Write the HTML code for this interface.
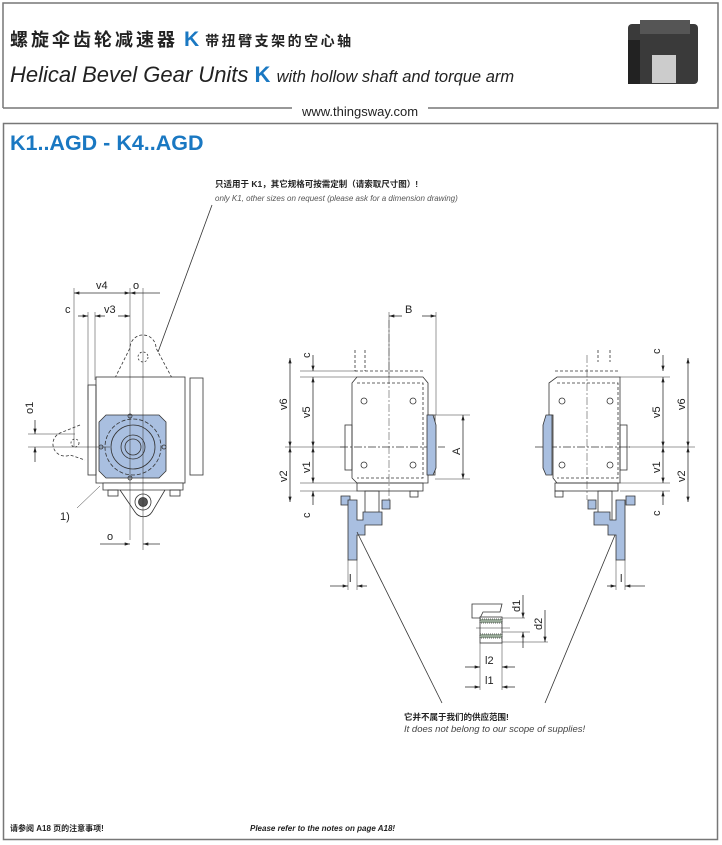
<!DOCTYPE html>
<html><head><meta charset="utf-8"><style>
html,body{margin:0;padding:0;background:#fff}
svg{display:block}
text{font-family:"Liberation Sans","Noto Sans CJK SC",sans-serif}
</style></head><body>
<svg width="722" height="845" viewBox="0 0 722 845" xmlns="http://www.w3.org/2000/svg">
<defs>
<marker id="a" viewBox="0 0 10 6" refX="10" refY="3" markerWidth="8" markerHeight="4" orient="auto-start-reverse"><path d="M0,0L10,3L0,6z" fill="#222"/></marker>
</defs>
<path d="M3,108V3H718V108H428M292,108H3" fill="none" stroke="#777" stroke-width="1.5"/>
<text x="10" y="46" font-size="18" font-weight="bold" fill="#222" letter-spacing="3">螺旋伞齿轮减速器<tspan fill="#1a78c2" font-size="21" letter-spacing="0" dx="6">K</tspan><tspan font-size="14" letter-spacing="2.5" dx="6">带扭臂支架的空心轴</tspan></text>
<text x="10" y="82" font-size="22" font-style="italic" fill="#222">Helical Bevel Gear Units <tspan fill="#1a78c2" font-weight="bold" font-style="normal">K</tspan> <tspan font-size="16.5">with hollow shaft and torque arm</tspan></text>
<text x="360" y="116" font-size="13" fill="#222" text-anchor="middle">www.thingsway.com</text>
<g>
<rect x="628" y="24" width="70" height="60" rx="4" fill="#3a3a3a"/>
<rect x="640" y="20" width="50" height="14" fill="#555"/>
<rect x="652" y="55" width="24" height="28" fill="#ccc"/>
<rect x="628" y="40" width="12" height="44" fill="#222"/>
</g>
<rect x="3.5" y="123.5" width="714" height="716" fill="none" stroke="#777" stroke-width="1.5"/>
<text x="10" y="150" font-size="21.5" font-weight="bold" fill="#1a78c2">K1..AGD - K4..AGD</text>

<text x="215" y="187" font-size="8.5" font-weight="bold" fill="#222">只适用于 K1，其它规格可按需定制（请索取尺寸图）!</text>
<text x="215" y="201" font-size="8" font-style="italic" fill="#555">only K1, other sizes on request (please ask for a dimension drawing)</text>
<line x1="212" y1="205" x2="158" y2="352" stroke="#333" stroke-width="0.8"/>

<g stroke="#333" stroke-width="0.8" fill="none">
<path d="M115,378L130,348A13,13 0 0 1 156,348L172,378" stroke-dasharray="3,2"/>
<circle cx="143" cy="357" r="5" stroke-dasharray="2,2"/>
<rect x="96" y="377" width="89" height="106" fill="#fff"/>
<rect x="190" y="378" width="13" height="97" fill="#fff"/>
<rect x="88" y="385" width="8" height="90"/>
<path d="M80,425 L60,433A12,12 0 0 0 70,455L85,460" stroke-dasharray="3,2"/>
<circle cx="75" cy="443" r="4" stroke-dasharray="2,2"/>
<path d="M106,415H159L166,422V471L159,478H106L99,471V422Z" fill="#a9bfe0" stroke="#333"/>
<circle cx="133" cy="447" r="28" stroke-dasharray="4,2"/>
<circle cx="133" cy="447" r="22"/>
<circle cx="133" cy="447" r="12"/>
<circle cx="133" cy="447" r="8"/>
<circle cx="130" cy="416" r="2"/><circle cx="130" cy="478" r="2"/><circle cx="101" cy="447" r="2"/><circle cx="164" cy="447" r="2"/>
<path d="M103,483H183V490H103Z" fill="#fff"/>
<rect x="108" y="490" width="10" height="6"/><rect x="170" y="490" width="10" height="6"/>
<path d="M120,490L135,512A10,10 0 0 0 152,512L165,490"/>
<circle cx="143" cy="502" r="8"/><circle cx="143" cy="502" r="4.5" fill="#555"/>
<path d="M74,288V447M88,312V400M95,312V380M130,288V540M143,288V550" stroke-width="0.5"/>
<line x1="74" y1="293" x2="130" y2="293" marker-start="url(#a)" marker-end="url(#a)"/>
<line x1="130" y1="293" x2="160" y2="293" marker-start="url(#a)"/>
<line x1="78" y1="316" x2="88" y2="316" marker-end="url(#a)"/>
<line x1="95" y1="316" x2="105" y2="316" marker-start="url(#a)"/>
<line x1="118" y1="316" x2="130" y2="316" marker-end="url(#a)"/>
<path d="M28,434H75M28,447H110" stroke-width="0.5"/>
<line x1="35" y1="420" x2="35" y2="434" marker-end="url(#a)"/>
<line x1="35" y1="462" x2="35" y2="447" marker-end="url(#a)"/>
<line x1="100" y1="544" x2="130" y2="544" marker-end="url(#a)"/>
<line x1="160" y1="544" x2="143" y2="544" marker-end="url(#a)"/>
<line x1="77" y1="508" x2="100" y2="486" stroke-width="0.5"/>

<path d="M355,371H425M355,350V371M365,350V371" stroke-dasharray="3,2"/>
<path d="M357,377H423L428,383V415H435V475H428V483H357L352,478V383Z" fill="#fff"/>
<rect x="345" y="425" width="7" height="45"/>
<path d="M357,383H423V478H357" stroke-dasharray="3,2"/>
<line x1="340" y1="447" x2="445" y2="447" stroke-dasharray="8,2,2,2"/>
<line x1="389" y1="320" x2="389" y2="500" stroke-dasharray="8,2,2,2" stroke-width="0.5"/>
<rect x="357" y="483" width="66" height="8"/>
<rect x="410" y="491" width="8" height="6"/>
<path d="M427,415H433L436,425V468L433,475H427Z" fill="#a9bfe0"/>
<circle cx="364" cy="401" r="3"/><circle cx="413" cy="401" r="3"/><circle cx="364" cy="465" r="3"/><circle cx="413" cy="465" r="3"/>
<rect x="365" y="491" width="14" height="30"/>
<path d="M350,496H341V505H350ZM382,500H390V509H382Z" fill="#a9bfe0"/>
<path d="M348,500H357V520H363V512H382V525H365V535H357V560H348Z" fill="#a9bfe0"/>
<path d="M300,371H357M300,377H357M285,447H345M300,483H357M300,491H357M435,415H470M435,479H470M389,312V377M436,312V415" stroke-width="0.5"/>
<line x1="313" y1="355" x2="313" y2="371" marker-end="url(#a)"/>
<line x1="313" y1="377" x2="313" y2="447" marker-start="url(#a)" marker-end="url(#a)"/>
<line x1="313" y1="447" x2="313" y2="483" marker-start="url(#a)" marker-end="url(#a)"/>
<line x1="313" y1="505" x2="313" y2="491" marker-end="url(#a)"/>
<line x1="290" y1="358" x2="290" y2="447" marker-start="url(#a)" marker-end="url(#a)"/>
<line x1="290" y1="447" x2="290" y2="502" marker-start="url(#a)" marker-end="url(#a)"/>
<line x1="463" y1="415" x2="463" y2="479" marker-start="url(#a)" marker-end="url(#a)"/>
<line x1="389" y1="316" x2="402" y2="316" marker-start="url(#a)"/>
<line x1="422" y1="316" x2="436" y2="316" marker-end="url(#a)"/>
<path d="M348,560V590M357,560V590" stroke-width="0.5"/>
<line x1="330" y1="586" x2="348" y2="586" marker-end="url(#a)"/>
<line x1="367" y1="586" x2="357" y2="586" marker-end="url(#a)"/>
<line x1="357" y1="532" x2="442" y2="703"/>

<path d="M555,371H620M598,350V362M610,350V362" stroke-dasharray="3,2"/>
<path d="M557,377H620V483H557L553,478V415L549,415V383Z" fill="#fff"/>
<rect x="620" y="425" width="7" height="45"/>
<path d="M557,383H618V478H557" stroke-dasharray="3,2"/>
<line x1="535" y1="447" x2="630" y2="447" stroke-dasharray="8,2,2,2"/>
<line x1="587" y1="355" x2="587" y2="500" stroke-dasharray="8,2,2,2" stroke-width="0.5"/>
<rect x="555" y="483" width="63" height="8"/>
<rect x="555" y="491" width="8" height="6"/>
<path d="M546,415H552V475H546L543,468V425Z" fill="#a9bfe0"/>
<circle cx="562" cy="401" r="3"/><circle cx="610" cy="401" r="3"/><circle cx="562" cy="465" r="3"/><circle cx="610" cy="465" r="3"/>
<rect x="598" y="491" width="14" height="30"/>
<path d="M588,500H596V509H588ZM626,496H635V505H626Z" fill="#a9bfe0"/>
<path d="M625,500H616V520H610V512H594V525H608V535H616V560H625Z" fill="#a9bfe0"/>
<path d="M620,377H670M627,447H695M620,483H670M620,491H670" stroke-width="0.5"/>
<line x1="663" y1="355" x2="663" y2="371" marker-end="url(#a)"/>
<line x1="663" y1="377" x2="663" y2="447" marker-start="url(#a)" marker-end="url(#a)"/>
<line x1="663" y1="447" x2="663" y2="483" marker-start="url(#a)" marker-end="url(#a)"/>
<line x1="663" y1="505" x2="663" y2="491" marker-end="url(#a)"/>
<line x1="688" y1="358" x2="688" y2="447" marker-start="url(#a)" marker-end="url(#a)"/>
<line x1="688" y1="447" x2="688" y2="502" marker-start="url(#a)" marker-end="url(#a)"/>
<path d="M616,560V590M625,560V590" stroke-width="0.5"/>
<line x1="607" y1="586" x2="616" y2="586" marker-end="url(#a)"/>
<line x1="645" y1="586" x2="625" y2="586" marker-end="url(#a)"/>
<line x1="615" y1="535" x2="545" y2="703"/>

<path d="M472,604H502L500,612H483L480,618H472Z" fill="#fff"/>
<rect x="480" y="617" width="22" height="26" fill="#fff"/>
<rect x="480" y="619" width="22" height="4" fill="#9a9" stroke-dasharray="1,1"/>
<rect x="480" y="634" width="22" height="4" fill="#9a9" stroke-dasharray="1,1"/>
<path d="M476,628H510M502,618H525M502,632H530M502,642H548M480,643V690M502,643V690" stroke-width="0.5"/>
<line x1="523" y1="595" x2="523" y2="618" marker-end="url(#a)"/>
<line x1="523" y1="648" x2="523" y2="632" marker-end="url(#a)"/>
<line x1="545" y1="610" x2="545" y2="642" marker-end="url(#a)"/>
<line x1="465" y1="667" x2="480" y2="667" marker-end="url(#a)"/>
<line x1="515" y1="667" x2="502" y2="667" marker-end="url(#a)"/>
<line x1="465" y1="687" x2="480" y2="687" marker-end="url(#a)"/>
<line x1="515" y1="687" x2="502" y2="687" marker-end="url(#a)"/>
</g>

<g font-size="11" fill="#222">
<text x="96" y="289">v4</text><text x="133" y="289">o</text>
<text x="65" y="313">c</text><text x="104" y="313">v3</text>
<text x="33" y="414" transform="rotate(-90 33 414)">o1</text>
<text x="60" y="520">1)</text>
<text x="107" y="540">o</text>
<text x="405" y="313">B</text>
<text x="460" y="455" transform="rotate(-90 460 455)">A</text>
<text x="310" y="358" transform="rotate(-90 310 358)">c</text>
<text x="310" y="418" transform="rotate(-90 310 418)">v5</text>
<text x="310" y="473" transform="rotate(-90 310 473)">v1</text>
<text x="310" y="518" transform="rotate(-90 310 518)">c</text>
<text x="287" y="410" transform="rotate(-90 287 410)">v6</text>
<text x="287" y="482" transform="rotate(-90 287 482)">v2</text>
<text x="660" y="354" transform="rotate(-90 660 354)">c</text>
<text x="660" y="418" transform="rotate(-90 660 418)">v5</text>
<text x="660" y="473" transform="rotate(-90 660 473)">v1</text>
<text x="660" y="516" transform="rotate(-90 660 516)">c</text>
<text x="685" y="410" transform="rotate(-90 685 410)">v6</text>
<text x="685" y="482" transform="rotate(-90 685 482)">v2</text>
<text x="349" y="582">l</text><text x="620" y="582">l</text>
<text x="520" y="612" transform="rotate(-90 520 612)">d1</text>
<text x="542" y="630" transform="rotate(-90 542 630)">d2</text>
<text x="485" y="664">l2</text><text x="485" y="684">l1</text>
</g>
<text x="404" y="720" font-size="8.5" font-weight="bold" fill="#222">它并不属于我们的供应范围!</text>
<text x="404" y="732" font-size="9.5" font-style="italic" fill="#444">It does not belong to our scope of supplies!</text>
<text x="10" y="831" font-size="8" font-weight="bold" fill="#222">请参阅 A18 页的注意事项!</text>
<text x="250" y="831" font-size="8" font-weight="bold" font-style="italic" fill="#222">Please refer to the notes on page A18!</text>
</svg>
</body></html>
